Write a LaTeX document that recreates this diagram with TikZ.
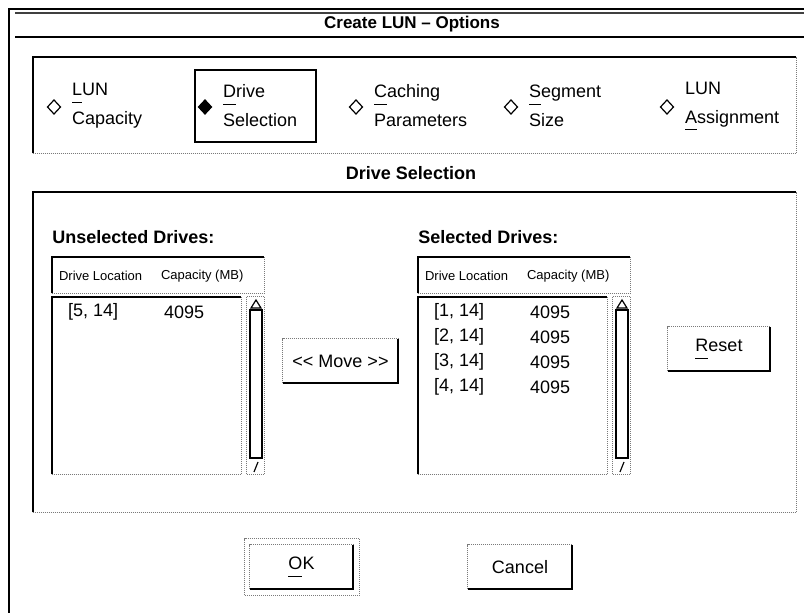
\documentclass[tikz,border=0pt]{standalone}
\usepackage{fontspec}
\setmainfont{Liberation Sans}[Ligatures=TeXOff]
\usetikzlibrary{fit}
\newcommand{\keyletter}[1]{\setbox0\hbox{#1}\rlap{\rule[-3.5pt]{\wd0}{0.5pt}}#1}

\begin{document}
\begin{tikzpicture}[x=0.5pt,y=-0.5pt,
  edge/.style={line width=1pt},
  dotedge/.style={line width=0.75pt,draw=dotgray,dash pattern=on 0.5pt off 0.5pt},
  area/.style={inner sep=0pt},
  btn/.style={inner sep=0pt,font=\fontsize{9}{11}\selectfont},
  head/.style={font=\bfseries\fontsize{9}{11}\selectfont},
  col/.style={anchor=west,font=\fontsize{6.5}{8}\selectfont},
  cell/.style={anchor=west,font=\fontsize{9}{11}\selectfont},
  choice/.style={anchor=west,align=left,font=\fontsize{9}{14.5}\selectfont}]
\definecolor{dotgray}{HTML}{7A7A7A}
\useasboundingbox (0,0) rectangle (804,613);
% window frame and title
\draw[edge] (9,613) -- (9,9) -- (804,9);
\draw[line width=0.75pt,black!75] (15,13) -- (804,13);
\node[head,font=\bfseries\fontsize{8.5}{10}\selectfont] (title) at (412,24) {Create LUN – Options};
\draw[edge] (15,37) -- (804,37);
% option bar
\node[area,fit={(33,57) (796,153)}] (opts) {};
\draw[edge] (opts.south west) |- (opts.north east);
\draw[dotedge] (opts.south west) -| (opts.north east);
\node[area,fit={(195,70) (316,142)}] (drvbox) {};
\draw[edge] (drvbox.south west) rectangle (drvbox.north east);
  \foreach \dx/\nm/\txt/\fillc in {54/cap/{\keyletter{L}UN\\Capacity}/white,
    205/drv/{\keyletter{D}rive\\Selection}/black,
    356/cach/{\keyletter{C}aching\\Parameters}/white,
    511/seg/{\keyletter{S}egment\\Size}/white,
    667/asg/{LUN\\\keyletter{A}ssignment}/white}
  {  \draw[line width=0.6pt,fill=\fillc] (\dx-6.5,107) -- (\dx,100) -- (\dx+6.5,107) -- (\dx,114) -- cycle;
     \node[choice] (\nm) at (\dx+11,106) {\txt};}
% drive selection panel
\node[head] (drvsel) at (411,173) {Drive Selection};
\node[area,fit={(33,192) (796,512)}] (main) {};
\draw[edge] (main.south west) |- (main.north east);
\draw[dotedge] (main.south west) -| (main.north east);
  \foreach \bx/\side/\lab in {52/uns/Unselected Drives:,418/sel/Selected Drives:}
  {  \node[head,anchor=west,inner sep=0pt] (lab\side) at (\bx,237) {\lab};
     \node[area,fit={(\bx,257) (\bx+212,293)}] (hd\side) {};
     \draw[edge] (hd\side.south west) |- (hd\side.north east);
     \draw[dotedge] (hd\side.south west) -| (hd\side.north east);
     \node[col] (loc\side) at (\bx,276) {Drive Location};
     \node[col] (cap\side) at (\bx+102,276) {Capacity (MB)};
     \node[area,fit={(\bx,297) (\bx+189,474)}] (list\side) {};
     \draw[edge] (list\side.south west) |- (list\side.north east);
     \draw[dotedge] (list\side.south west) -| (list\side.north east);
     \node[area,fit={(\bx+195,297) (\bx+212,474)}] (sb\side) {};
     \draw[dotedge] (sb\side.south west) rectangle (sb\side.north east);
     \draw[edge] (\bx+198,310) rectangle (\bx+210,458);
     \draw[line width=0.6pt] (\bx+199,308) -- (\bx+204,300) -- (\bx+209,308) -- cycle;
     \draw[line width=0.6pt] (\bx+202,472) -- (\bx+206,462);}
\node[cell] (rowuns) at (61,312) {[5, 14]};
\node[cell] (capuns1) at (157,312) {4095};
  \foreach \r in {1,...,4}
  {  \node[cell] (rowsel\r) at (427,{312+25*(\r-1)}) {[\r, 14]};
     \node[cell] (capsel\r) at (523,{312+25*(\r-1)}) {4095};}
% buttons
\node[btn,minimum width=57.5pt,minimum height=22pt] (move) at (340.5,361) {<< Move >>};
\draw[dotedge] (move.south west) |- (move.north east);
\draw[edge] (move.south west) -| (move.north east);
\node[btn,minimum width=51pt,minimum height=22pt] (reset) at (719,349) {\keyletter{R}eset};
\draw[dotedge] (reset.south west) |- (reset.north east);
\draw[edge] (reset.south west) -| (reset.north east);
\node[btn,minimum width=51.5pt,minimum height=22pt] (ok) at (301.5,567) {\keyletter{O}K};
\draw[dotedge] (ok.south west) |- (ok.north east);
\draw[edge] (ok.south west) -| (ok.north east);
\node[area,fit={(245,539) (359,595)}] (okring) {};
\draw[dotedge,line width=0.6pt] (okring.south west) rectangle (okring.north east);
\node[btn,minimum width=52pt,minimum height=22pt] (cancel) at (520,567) {Cancel};
\draw[dotedge] (cancel.south west) |- (cancel.north east);
\draw[edge] (cancel.south west) -| (cancel.north east);
\end{tikzpicture}
\end{document}
